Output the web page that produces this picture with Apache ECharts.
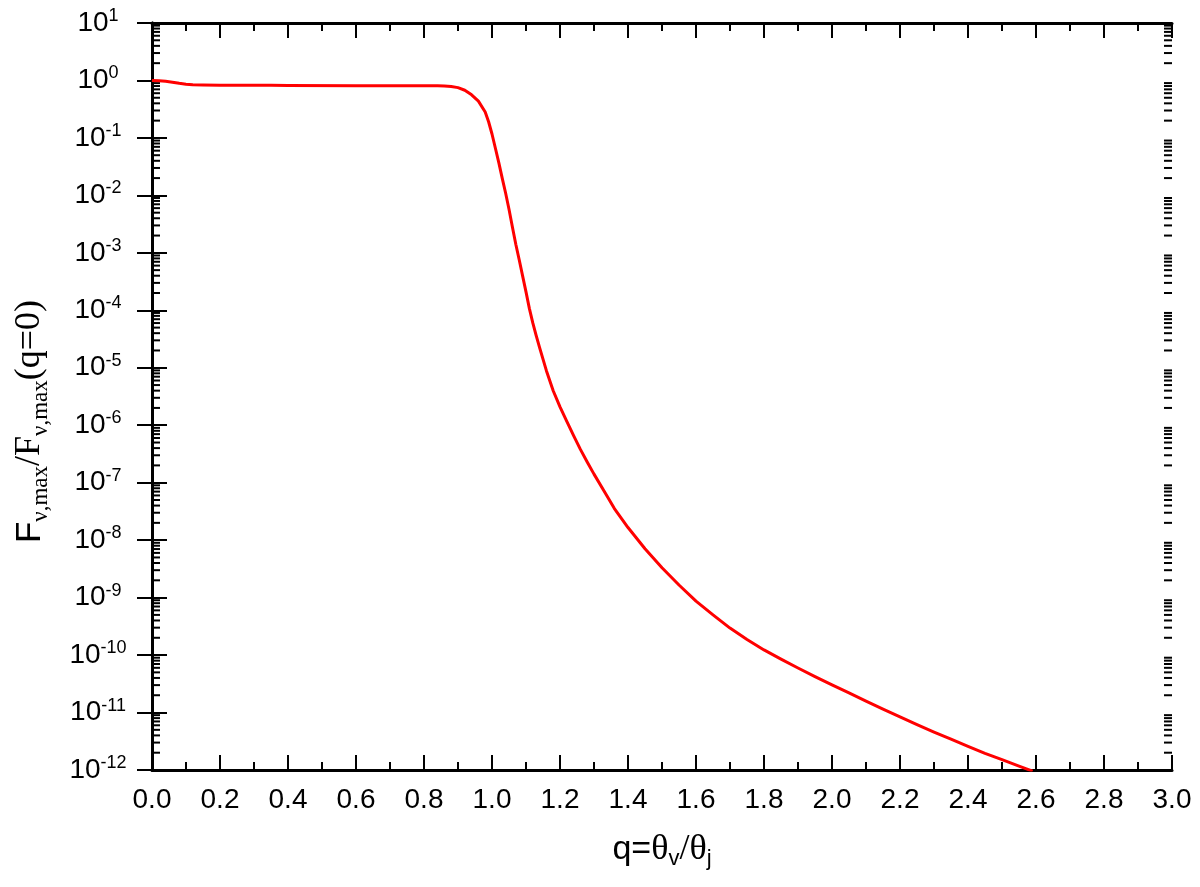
<!DOCTYPE html>
<html>
<head>
<meta charset="utf-8">
<script src="https://cdn.jsdelivr.net/npm/echarts@6/dist/echarts.min.js"></script>
<style>html,body{margin:0;padding:0;background:#fff;}#c{width:1200px;height:887px;}</style>
</head>
<body>
<div id="c"></div>
<script>
// q = theta_v / theta_j
const qValues = [0.00, 0.02, 0.04, 0.06, 0.08, 0.10, 0.12, 0.15, 0.20, 0.30, 0.35, 0.40, 0.60, 0.80, 0.84, 0.86, 0.88, 0.90, 0.92, 0.94, 0.96, 0.98, 0.99, 1.00, 1.01, 1.02, 1.03, 1.04, 1.05, 1.06, 1.07, 1.08, 1.09, 1.10, 1.11, 1.12, 1.13, 1.14, 1.15, 1.16, 1.18, 1.20, 1.22, 1.24, 1.26, 1.28, 1.30, 1.33, 1.36, 1.40, 1.45, 1.50, 1.55, 1.60, 1.65, 1.70, 1.75, 1.80, 1.85, 1.90, 1.95, 2.00, 2.05, 2.10, 2.15, 2.20, 2.25, 2.30, 2.35, 2.40, 2.45, 2.50, 2.55, 2.59];
// F_nu,max / F_nu,max(q=0)
const fluxRatio = [1.0, 0.989, 0.966, 0.933, 0.891, 0.861, 0.841, 0.832, 0.826, 0.826, 0.822, 0.817, 0.813, 0.813, 0.809, 0.804, 0.785, 0.750, 0.676, 0.562, 0.437, 0.282, 0.191, 0.117, 0.0661, 0.0372, 0.0200, 0.0110, 5.75e-3, 2.82e-3, 1.41e-3, 7.59e-4, 3.98e-4, 2.09e-4, 1.07e-4, 6.03e-5, 3.63e-5, 2.24e-5, 1.41e-5, 8.91e-6, 3.98e-6, 2.09e-6, 1.17e-6, 6.61e-7, 3.80e-7, 2.29e-7, 1.41e-7, 7.08e-8, 3.55e-8, 1.66e-8, 7.08e-9, 3.31e-9, 1.66e-9, 8.71e-10, 5.01e-10, 2.95e-10, 1.86e-10, 1.23e-10, 8.51e-11, 5.96e-11, 4.22e-11, 3.02e-11, 2.19e-11, 1.58e-11, 1.15e-11, 8.41e-12, 6.17e-12, 4.57e-12, 3.43e-12, 2.57e-12, 1.95e-12, 1.51e-12, 1.17e-12, 9.55e-13];
const xTicks = [0.0, 0.2, 0.4, 0.6, 0.8, 1.0, 1.2, 1.4, 1.6, 1.8, 2.0, 2.2, 2.4, 2.6, 2.8, 3.0];
const yDecades = [-12, -11, -10, -9, -8, -7, -6, -5, -4, -3, -2, -1, 0, 1];

const seriesData = qValues.map((q, i) => [q, fluxRatio[i]]);
const chart = echarts.init(document.getElementById('c'), null, {renderer: 'canvas'});
const sans = '"Liberation Sans", Arial, sans-serif';
const serif = '"Liberation Serif", "Times New Roman", serif';

const axisLine = {show: true, lineStyle: {color: '#000', width: 3}};
const axisTick = {show: true, inside: true, length: 15, lineStyle: {color: '#000', width: 2}};

function minorTicksRender(params, api) {
  const children = [];
  const xMin = xTicks[0], xMax = xTicks[xTicks.length - 1];
  for (let d = 0; d < yDecades.length - 1; d++) {
    for (let m = 2; m <= 9; m++) {
      const v = m * Math.pow(10, yDecades[d]);
      const pl = api.coord([xMin, v]);
      const pr = api.coord([xMax, v]);
      children.push({type: 'line', shape: {x1: pl[0], y1: pl[1], x2: pl[0] + 8, y2: pl[1]}, style: {stroke: '#000', lineWidth: 2}});
      children.push({type: 'line', shape: {x1: pr[0], y1: pr[1], x2: pr[0] - 8, y2: pr[1]}, style: {stroke: '#000', lineWidth: 2}});
    }
  }
  return {type: 'group', children: children};
}

chart.setOption({
  animation: false,
  backgroundColor: '#fff',
  grid: {left: 152, right: 28, top: 23, bottom: 117, containLabel: false},
  xAxis: [{
    type: 'value', min: 0, max: 3, interval: 0.2, position: 'bottom',
    axisLine: axisLine, axisTick: axisTick,
    minorTick: {show: true, splitNumber: 2, length: 8, lineStyle: {color: '#000', width: 2}},
    splitLine: {show: false},
    axisLabel: {show: true, margin: 16, color: '#000', fontSize: 28, fontFamily: sans, formatter: v => v.toFixed(1)},
    name: '{a|q=}{t|θ}{s|v}{t|/θ}{s|j}',
    nameLocation: 'middle', nameGap: 60,
    nameTextStyle: {
      rich: {
        a: {fontFamily: sans, fontSize: 34, color: '#000', lineHeight: 40},
        t: {fontFamily: serif, fontSize: 36, color: '#000', lineHeight: 40},
        s: {fontFamily: sans, fontSize: 22, color: '#000', lineHeight: 14, verticalAlign: 'bottom'}
      }
    }
  }, {
    type: 'value', min: 0, max: 3, interval: 0.2, position: 'top',
    axisLine: axisLine, axisTick: axisTick,
    minorTick: {show: true, splitNumber: 2, length: 8, lineStyle: {color: '#000', width: 2}},
    splitLine: {show: false}, axisLabel: {show: false}
  }],
  yAxis: [{
    type: 'log', logBase: 10, min: 1e-12, max: 10, interval: 1, position: 'left',
    axisLine: axisLine, axisTick: axisTick,
    splitLine: {show: false},
    axisLabel: {
      show: true, margin: 54, align: 'center', color: '#000',
      formatter: v => '{b|10}{s|' + Math.round(Math.log10(v)) + '}',
      rich: {
        b: {fontFamily: sans, fontSize: 28, color: '#000', lineHeight: 32},
        s: {fontFamily: sans, fontSize: 18, color: '#000', lineHeight: 18, verticalAlign: 'top'}
      }
    },
    name: '{f|F}{s|ν,max}{t|/F}{s|ν,max}{t|(q=0)}',
    nameLocation: 'middle', nameGap: 100, nameRotate: 90,
    nameTextStyle: {
      padding: [0, 50, 0, 0],
      rich: {
        f: {fontFamily: sans, fontSize: 35, color: '#000', lineHeight: 44},
        t: {fontFamily: serif, fontSize: 36, color: '#000', lineHeight: 44},
        s: {fontFamily: serif, fontSize: 23, color: '#000', lineHeight: 16, verticalAlign: 'bottom'}
      }
    }
  }, {
    type: 'log', logBase: 10, min: 1e-12, max: 10, interval: 1, position: 'right',
    axisLine: axisLine, axisTick: axisTick,
    splitLine: {show: false}, axisLabel: {show: false}
  }],
  series: [{
    type: 'line', xAxisIndex: 0, yAxisIndex: 0,
    data: seriesData, showSymbol: false, symbol: 'none',
    smooth: false,
    lineStyle: {color: '#ff0000', width: 3, join: 'round'}, clip: true
  }, {
    type: 'custom', xAxisIndex: 0, yAxisIndex: 0, silent: true, clip: false,
    renderItem: minorTicksRender, data: [[0, 1]]
  }]
});
</script>
</body>
</html>
